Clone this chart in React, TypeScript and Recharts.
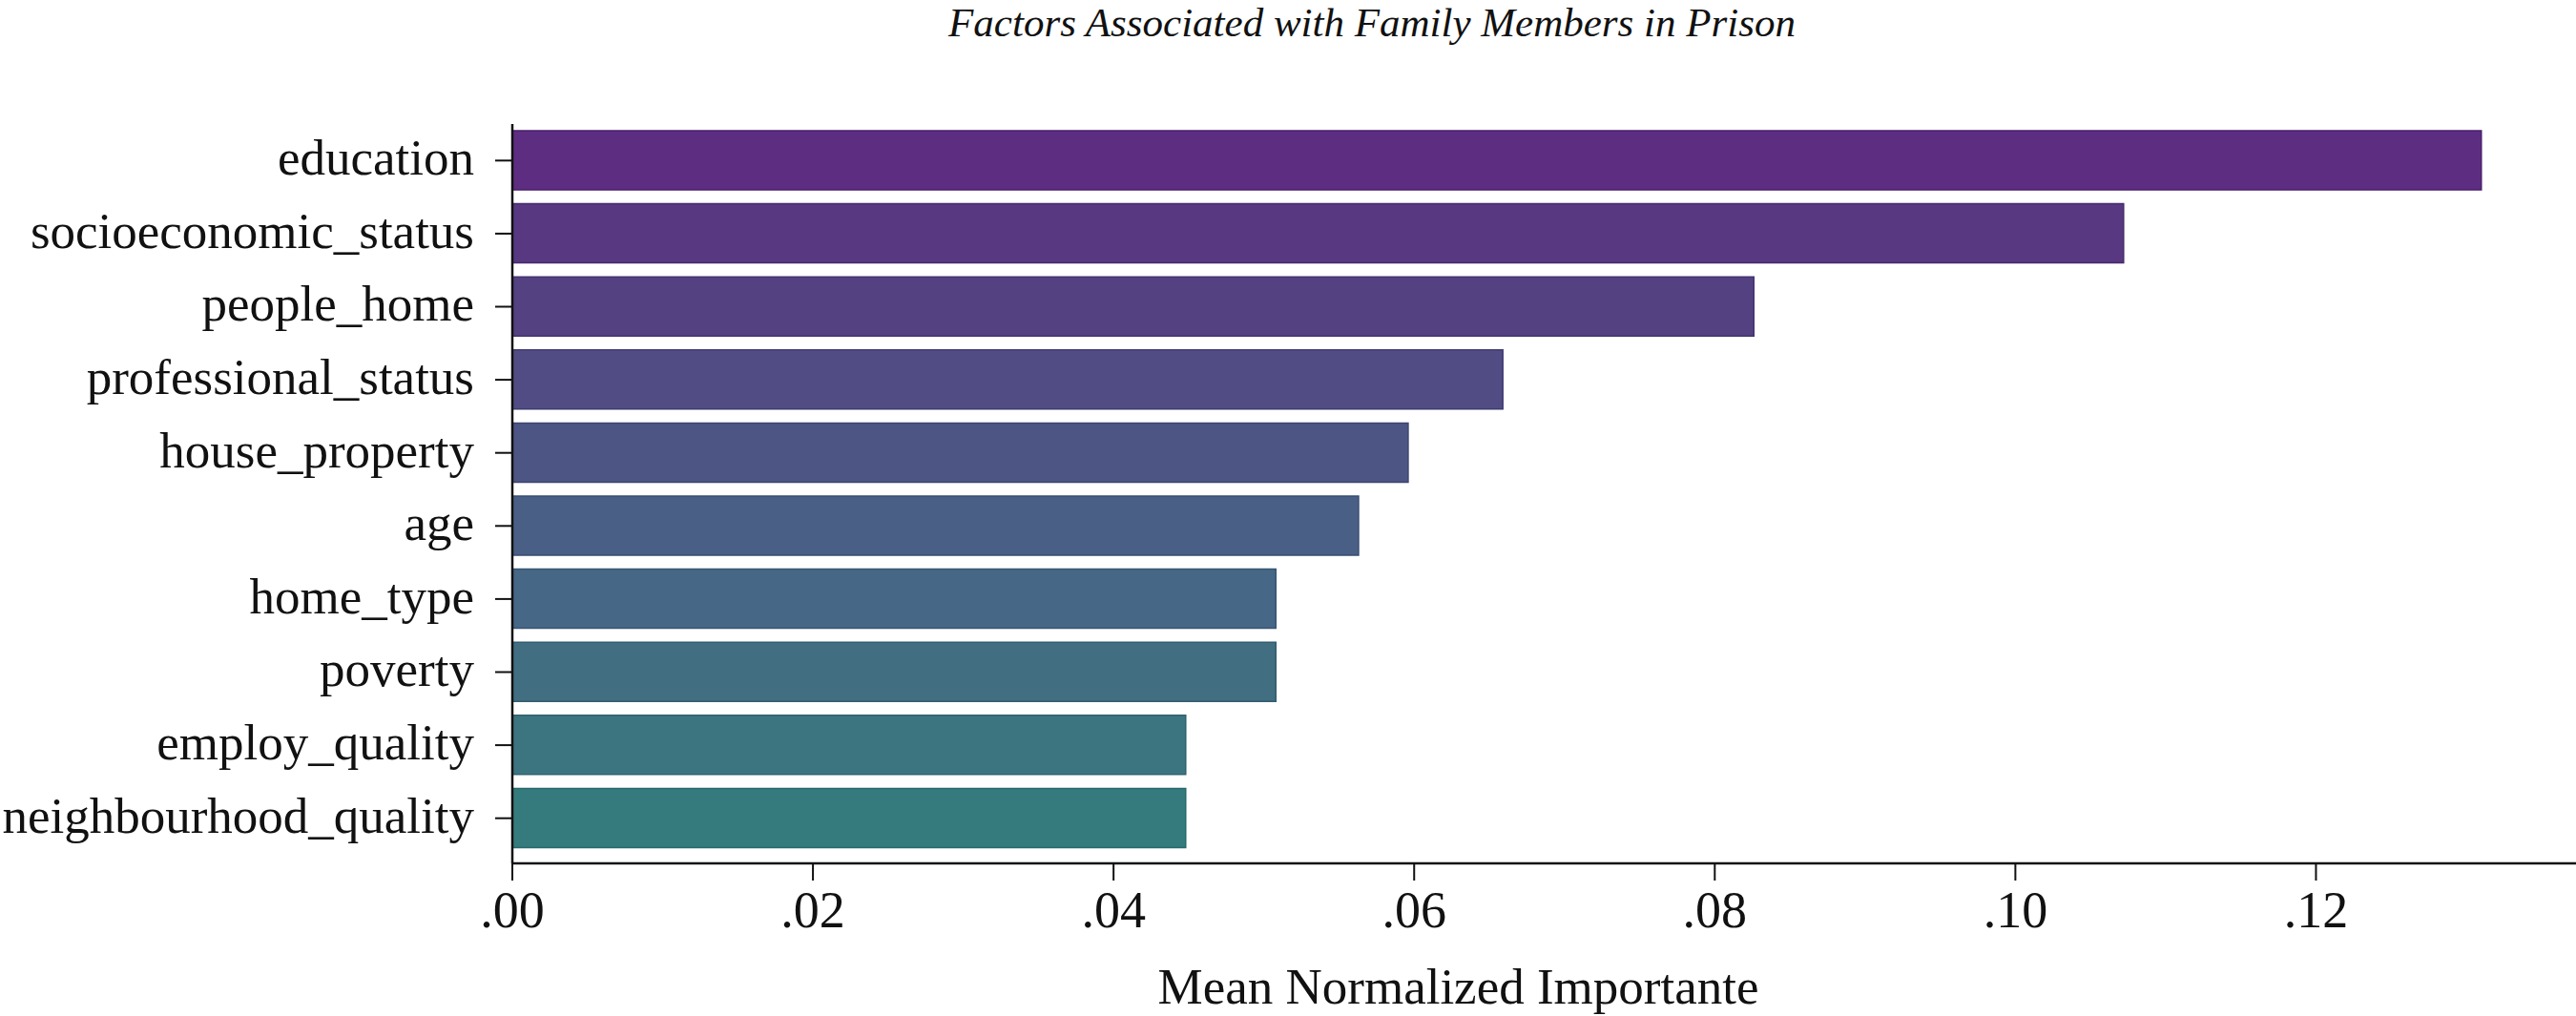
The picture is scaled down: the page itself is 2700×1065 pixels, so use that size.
import React from "react";
import { BarChart, Bar, XAxis, YAxis, Cell, Label } from "recharts";

const factors = [
  "education",
  "socioeconomic_status",
  "people_home",
  "professional_status",
  "house_property",
  "age",
  "home_type",
  "poverty",
  "employ_quality",
  "neighbourhood_quality",
];
const importance = [0.131, 0.1072, 0.0826, 0.0659, 0.0596, 0.0563, 0.0508, 0.0508, 0.0448, 0.0448];
const xTicks = [0, 0.02, 0.04, 0.06, 0.08, 0.1, 0.12];

// muted viridis-like ramp, top bar to bottom bar
const palette = [
  "#5c2d80", "#573881", "#544182", "#514c83", "#4c5583",
  "#495f85", "#466785", "#416e81", "#3c7480", "#357b7e",
];
const edges = [
  "#4a1f6c", "#462b6e", "#43336f", "#403c70", "#3c4570",
  "#394e72", "#365672", "#325d6e", "#2e636d", "#276a6b",
];

const data = factors.map((f, i) => ({ name: f, value: importance[i] }));

const FONT = "'Liberation Serif', 'Times New Roman', serif";

const fmt = (v: number) => v.toFixed(2).replace(/^0/, "");

export default function App() {
  return (
    <div style={{ position: "absolute", left: 0, top: 0, width: 2700, height: 1065, background: "#fff" }}>
      <svg width={2700} height={60} style={{ position: "absolute", left: 0, top: 0 }}>
        <text x={1438} y={38} textAnchor="middle" fontFamily={FONT} fontStyle="italic" fontSize={43} fill="#111">
          Factors Associated with Family Members in Prison
        </text>
      </svg>
      <BarChart
        width={2700}
        height={1065}
        data={data}
        layout="vertical"
        margin={{ top: 130, right: 0, bottom: 0, left: 0 }}
        style={{ fontFamily: FONT }}
      >
        <XAxis
          type="number"
          dataKey="value"
          domain={[0, 0.1373]}
          ticks={xTicks}
          tickFormatter={fmt}
          allowDataOverflow
          height={160}
          tickSize={18}
          tickMargin={11}
          axisLine={{ stroke: "#111", strokeWidth: 2.5 }}
          tickLine={{ stroke: "#111", strokeWidth: 2 }}
          tick={{ fontSize: 54, fill: "#111", fontFamily: FONT }}
        >
          <Label
            value="Mean Normalized Importante"
            position="insideBottom"
            offset={13}
            dx={-90}
            style={{ fontSize: 53, fill: "#111", fontFamily: FONT }}
          />
        </XAxis>
        <YAxis
          type="category"
          dataKey="name"
          width={537}
          padding={{ top: 0, bottom: 9 }}
          interval={0}
          tickSize={18}
          tickMargin={22}
          axisLine={{ stroke: "#111", strokeWidth: 2.5 }}
          tickLine={{ stroke: "#111", strokeWidth: 2 }}
          tick={{ fontSize: 53, fill: "#111", fontFamily: FONT, dy: -4 }}
        />
        <Bar dataKey="value" barSize={62} isAnimationActive={false}>
          {data.map((d, i) => (
            <Cell key={d.name} fill={palette[i]} stroke={edges[i]} strokeWidth={1.5} />
          ))}
        </Bar>
      </BarChart>
    </div>
  );
}
